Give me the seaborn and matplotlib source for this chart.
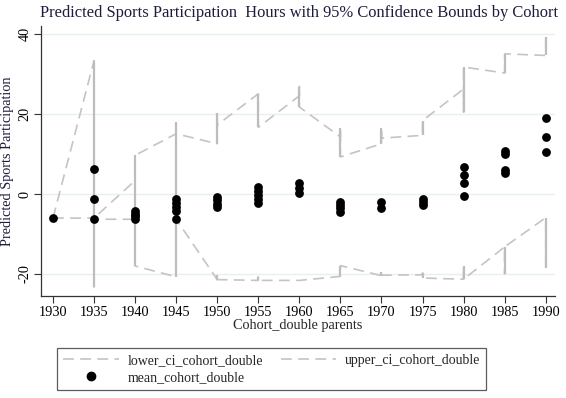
import matplotlib
matplotlib.use("Agg")
import matplotlib.pyplot as plt
from matplotlib.lines import Line2D
import seaborn as sns
import pandas as pd

# Dados
mean_x = [1930,
          1935, 1935, 1935,
          1940, 1940, 1940, 1940,
          1945, 1945, 1945, 1945, 1945,
          1950, 1950, 1950, 1950,
          1955, 1955, 1955, 1955, 1955,
          1960, 1960, 1960,
          1965, 1965, 1965, 1965,
          1970, 1970,
          1975, 1975, 1975,
          1980, 1980, 1980, 1980,
          1985, 1985, 1985, 1985,
          1990, 1990, 1990]
mean_y = [-6.0,
          6.3, -1.2, -6.2,
          -4.3, -5.0, -5.6, -6.2,
          -1.2, -2.2, -3.2, -4.2, -6.3,
          -0.8, -1.6, -2.4, -3.2,
          1.9, 0.9, -0.2, -1.2, -2.2,
          2.7, 1.6, 0.3,
          -2.0, -2.8, -3.6, -4.4,
          -2.0, -3.4,
          -1.2, -2.0, -2.8,
          6.9, 4.9, 2.8, -0.5,
          10.9, 10.0, 6.0, 5.2,
          19.1, 14.4, 10.5]

upper_x = [1930, 1935, 1935, 1940, 1940, 1940, 1945, 1945, 1945, 1945,
           1950, 1950, 1950, 1955, 1955, 1960, 1960, 1960, 1965, 1965, 1965,
           1970, 1970, 1970, 1975, 1975, 1980, 1980, 1980, 1985, 1985, 1990, 1990]
upper_y = [-6.0, 33.4, -6.0, 3.4, -4.0, 9.7, 15.1, -1.5, 18.0, 15.1,
           12.6, 20.3, 17.3, 25.1, 16.7, 24.6, 26.9, 21.8, 14.3, 16.6, 9.3,
           12.6, 16.6, 14.0, 14.7, 18.4, 26.3, 20.5, 31.8, 30.3, 35.1, 34.7, 39.4]

lower_x = [1930, 1935, 1935, 1935, 1940, 1940, 1945, 1945, 1950, 1950, 1950,
           1955, 1955, 1955, 1960, 1965, 1965, 1970, 1970, 1970, 1975, 1975, 1975,
           1980, 1980, 1980, 1985, 1985, 1985, 1990, 1990]
lower_y = [-6.0, -6.0, -23.2, -6.3, -6.3, -18.0, -20.7, -6.3, -21.4, -20.3, -21.4,
           -21.6, -20.8, -21.6, -21.6, -20.6, -17.9, -20.4, -19.6, -20.3, -20.2, -19.8, -21.0,
           -21.3, -18.1, -21.3, -13.2, -19.9, -13.2, -5.9, -18.4]

xticks = list(range(1930, 1995, 5))
yticks = [-20, 0, 20, 40]

sns.set_style("white")
plt.rcParams['font.family'] = ['Liberation Serif', 'DejaVu Serif']

fig = plt.figure(figsize=(5.66, 3.98), dpi=100)
ax = fig.add_axes([0.0724, 0.2563, 0.9082, 0.6777])

ci_color = "#c4c4c4"
dash = (6.5, 3.8)

# linhas dos intervalos (tracejadas, na ordem dos dados)
for xs, ys in [(lower_x, lower_y), (upper_x, upper_y)]:
    df = pd.DataFrame({"x": xs, "y": ys})
    sns.lineplot(data=df, x="x", y="y", sort=False, estimator=None, ax=ax,
                 color=ci_color, lw=1.2, dashes=False, linestyle=(0, dash))
    rng = df.groupby("x")["y"].agg(["min", "max"]).reset_index()
    ax.vlines(rng["x"], rng["min"], rng["max"], color="#bdbdbd", lw=1.6, zorder=2)

sns.scatterplot(x=mean_x, y=mean_y, ax=ax, color="black", s=40, edgecolor="black",
                linewidth=0, zorder=3)

ax.set_xlim(1928.54, 1991.13)
ax.set_ylim(-25.5, 42)
ax.set_xticks(xticks)
ax.set_yticks(yticks)
ax.set_yticklabels([str(v) for v in yticks], rotation=90, va="center")
ax.tick_params(axis="both", direction="out", length=5, width=0.8, color="#333333",
               labelsize=10.3, labelcolor="black", pad=2)
ax.tick_params(axis="x", bottom=True)
ax.tick_params(axis="y", left=True)
ax.grid(axis="y", color="#e6eff1", lw=1)
ax.set_axisbelow(True)
for s in ["top", "right"]:
    ax.spines[s].set_visible(False)
for s in ["left", "bottom"]:
    ax.spines[s].set_color("#333333")
    ax.spines[s].set_linewidth(0.9)

ax.set_xlabel("Cohort_double parents", fontsize=10.3, labelpad=0)
ax.set_ylabel("Predicted Sports Participation", fontsize=10.3, color="#1c1c3c", labelpad=3)
fig.text(0.529, 0.968, "Predicted Sports Participation  Hours with 95% Confidence Bounds by Cohort",
         ha="center", va="center", fontsize=11.9, color="#1c1c3c")

handles = [
    Line2D([], [], color=ci_color, lw=1.2, linestyle=(0, dash)),
    Line2D([], [], marker="o", color="black", lw=0, markersize=6),
    Line2D([], [], color=ci_color, lw=1.2, linestyle=(0, dash)),
]
labels = ["lower_ci_cohort_double", "mean_cohort_double", "upper_ci_cohort_double"]
leg = fig.legend(handles, labels, ncol=2, loc="center", bbox_to_anchor=(0.48, 0.073),
                 frameon=True, fancybox=False, edgecolor="#333333", fontsize=10,
                 handlelength=4.0, columnspacing=1.3, borderpad=0.45, labelspacing=0.3,
                 handletextpad=0.6)
leg.get_frame().set_linewidth(0.9)

fig.savefig("out.png", dpi=100)
